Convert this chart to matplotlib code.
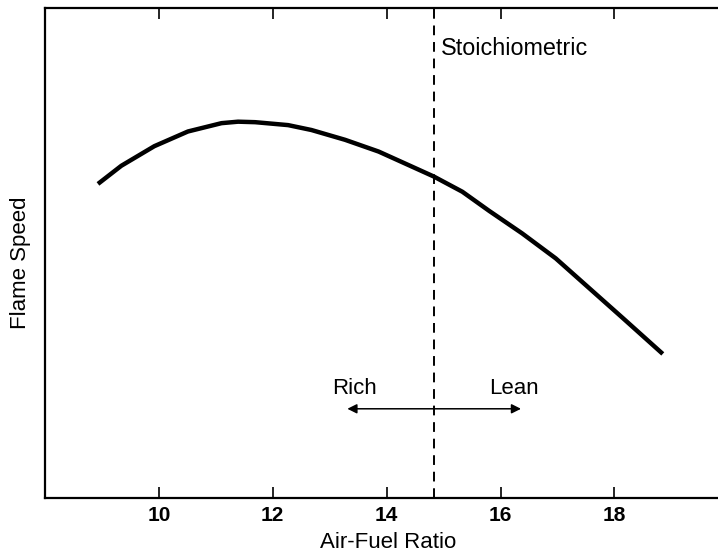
import matplotlib
matplotlib.use("Agg")
import matplotlib.pyplot as plt

plt.rcParams["font.family"] = ["Liberation Sans", "DejaVu Sans"]

# ── Data (flame speed in arbitrary units 0-100) ──────────────────────────────
afr = [8.93, 9.34, 9.92, 10.51, 11.10, 11.39, 11.69, 12.27, 12.68, 13.27,
       13.86, 14.45, 14.83, 15.33, 15.80, 16.38, 16.97, 17.56, 18.15, 18.85]
flame_speed = [64.1, 67.8, 71.8, 74.8, 76.5, 76.8, 76.7, 76.1, 75.1, 73.1,
               70.7, 67.6, 65.6, 62.5, 58.6, 54.0, 48.9, 42.8, 36.7, 29.4]

STOICH = 14.84
x_ticks = [10, 12, 14, 16, 18]
rich_lean_span = (13.31, 16.36)

# ── Figure ───────────────────────────────────────────────────────────────────
fig = plt.figure(figsize=(7.18, 5.57), dpi=100)
ax = fig.add_axes([0.0627, 0.106, 0.9373, 0.8796])

ax.plot(afr, flame_speed, color="black", lw=3.2, solid_capstyle="butt",
        solid_joinstyle="round")
ax.axvline(STOICH, color="black", lw=1.4, ls=(0, (5, 3.5)))

ax.annotate("", xy=(rich_lean_span[0], 18.2), xytext=(rich_lean_span[1], 18.2),
            arrowprops=dict(arrowstyle="<|-|>", color="black", lw=1.1,
                            mutation_scale=14, shrinkA=0, shrinkB=0))

ax.text(STOICH + 0.11, 91.7, "Stoichiometric", ha="left", va="center",
        fontsize=16.8)
ax.text(13.44, 22.4, "Rich", ha="center", va="center", fontsize=16)
ax.text(16.24, 22.4, "Lean", ha="center", va="center", fontsize=16)

ax.set_xlim(8.0, 19.82)
ax.set_ylim(0, 100)
ax.set_xticks(x_ticks)
ax.set_yticks([])
ax.tick_params(axis="x", direction="in", length=8, width=1.2, top=True,
               labelsize=15, pad=6)
for lbl in ax.get_xticklabels():
    lbl.set_fontweight("bold")

for side in ("left", "bottom", "top"):
    ax.spines[side].set_linewidth(1.6)
ax.spines["right"].set_visible(False)

ax.set_xlabel("Air-Fuel Ratio", fontsize=16, labelpad=5)
ax.set_ylabel("Flame Speed", fontsize=16, labelpad=10)
ax.xaxis.label.set_x(0.51)
ax.yaxis.label.set_y(0.48)

fig.savefig("out.png", dpi=100)
